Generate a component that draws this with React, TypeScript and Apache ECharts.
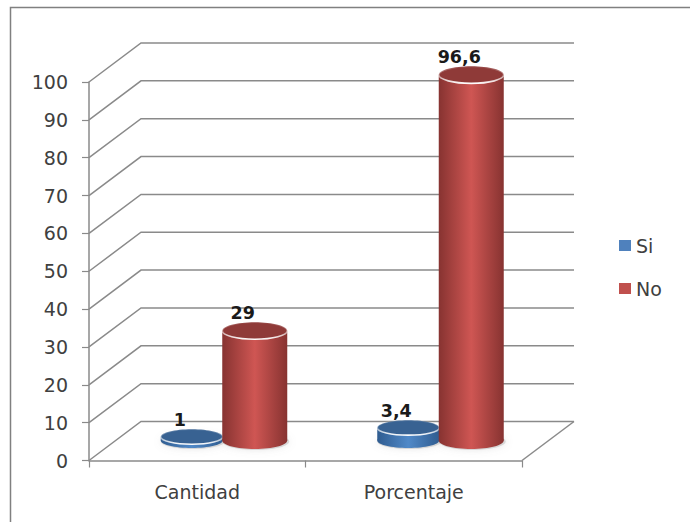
import React, { useEffect, useRef } from "react";
import * as echarts from "echarts";

const categories = ["Cantidad", "Porcentaje"];
const siValues = [1, 3.4];
const noValues = [29, 96.6];
const axisTicks = [0, 10, 20, 30, 40, 50, 60, 70, 80, 90, 100];

const FONT = "'DejaVu Sans', sans-serif";
const LINE = "#8a8a8a";
const TEXT = "#404040";

// Oblique projection of the chart's box: how far the back wall sits from the front plane.
const WALL_DX = 52;
const WALL_DY = -39;
// Bars stand halfway into the box.
const BAR_DX = 26;
const BAR_DY = -20;

const sideGradient = (edge: string, mid: string) =>
  new echarts.graphic.LinearGradient(0, 0, 1, 0, [
    { offset: 0, color: edge },
    { offset: 0.5, color: mid },
    { offset: 1, color: edge },
  ]);

const rimGradient = () =>
  new echarts.graphic.LinearGradient(0, 0, 0, 1, [
    { offset: 0, color: "rgba(255,255,255,0.05)" },
    { offset: 0.55, color: "rgba(255,255,255,0.5)" },
    { offset: 1, color: "rgba(255,255,255,0.98)" },
  ]);

function cylinderSeries(
  name: string,
  values: number[],
  shift: number,
  rx: number,
  ry: number,
  colors: { legend: string; edge: string; mid: string; top: string }
) {
  return {
    name,
    type: "custom",
    coordinateSystem: "cartesian2d",
    clip: false,
    itemStyle: { color: colors.legend },
    data: values.map((v, i) => [i, v]),
    renderItem: (_: any, api: any) => {
      const value = api.value(1);
      const base = api.coord([api.value(0), 0]);
      const top = api.coord([api.value(0), value]);
      const cx = base[0] + BAR_DX + shift;
      const yBase = base[1] + BAR_DY;
      const yTop = top[1] + BAR_DY;
      const fill = sideGradient(colors.edge, colors.mid);
      return {
        type: "group",
        children: [
          {
            // Soft contact shadow under the base
            type: "ellipse",
            shape: { cx: cx + 1, cy: yBase + 1, rx: rx + 1, ry },
            style: {
              fill: "rgba(150,150,150,0.3)",
              shadowBlur: 7,
              shadowColor: "rgba(130,130,130,0.6)",
            },
          },
          {
            type: "ellipse",
            shape: { cx, cy: yBase, rx, ry },
            style: { fill },
          },
          {
            type: "rect",
            shape: { x: cx - rx, y: yTop, width: rx * 2, height: yBase - yTop },
            style: { fill },
          },
          {
            type: "ellipse",
            shape: { cx, cy: yTop, rx, ry },
            style: { fill: colors.top, stroke: rimGradient(), lineWidth: 1.6 },
          },
          {
            type: "text",
            style: {
              x: cx - 12,
              y: yTop - ry - 0.5,
              text: String(value).replace(".", ","),
              font: `bold 17.5px ${FONT}`,
              fill: "#1a1a1a",
              textAlign: "center",
              textVerticalAlign: "bottom",
            },
          },
        ],
      };
    },
  };
}

export default function App() {
  const ref = useRef<HTMLDivElement>(null);

  useEffect(() => {
    const chart = echarts.init(ref.current!, null, { renderer: "svg" });
    chart.setOption({
      animation: false,
      backgroundColor: "#ffffff",
      grid: { left: 89, right: 172, top: 82, bottom: 61.5 },
      xAxis: {
        type: "category",
        data: categories,
        axisLine: { lineStyle: { color: LINE, width: 1.5 } },
        axisTick: { show: true, length: 7, lineStyle: { color: LINE, width: 1.2 } },
        axisLabel: { color: TEXT, fontFamily: FONT, fontSize: 19, margin: 22 },
        splitLine: { show: false },
      },
      yAxis: {
        type: "value",
        min: 0,
        max: 100,
        interval: 10,
        axisLine: { show: true, lineStyle: { color: LINE, width: 1.5 } },
        axisTick: { show: true, length: 7, lineStyle: { color: LINE, width: 1.2 } },
        axisLabel: { color: TEXT, fontFamily: FONT, fontSize: 19, margin: 21 },
        splitLine: { show: false },
      },
      legend: {
        data: ["Si", "No"],
        orient: "vertical",
        left: 614,
        top: 231,
        icon: "rect",
        itemWidth: 12,
        itemHeight: 11,
        itemGap: 24,
        textStyle: { color: TEXT, fontFamily: FONT, fontSize: 19 },
      },
      graphic: [
        {
          type: "polyline",
          silent: true,
          shape: { points: [[10.5, 522], [10.5, 7.5], [690, 7.5]] },
          style: { fill: "none", stroke: "#808080", lineWidth: 1.5 },
        },
      ],
      series: [
        {
          // Wall and floor lines of the oblique box, one per axis tick.
          type: "custom",
          coordinateSystem: "cartesian2d",
          clip: false,
          silent: true,
          data: axisTicks.map((t) => [0, t]),
          renderItem: (params: any, api: any) => {
            const y = api.coord([0, api.value(1)])[1];
            const left = params.coordSys.x;
            const right = left + params.coordSys.width;
            const style = { fill: "none", stroke: LINE, lineWidth: 1.5 };
            const children: any[] = [
              {
                type: "polyline",
                shape: {
                  points: [
                    [left, y],
                    [left + WALL_DX, y + WALL_DY],
                    [right + WALL_DX, y + WALL_DY],
                  ],
                },
                style,
              },
            ];
            if (api.value(1) === 0) {
              children.push({
                type: "line",
                shape: { x1: right, y1: y, x2: right + WALL_DX, y2: y + WALL_DY },
                style,
              });
            }
            return { type: "group", children };
          },
        },
        cylinderSeries("Si", siValues, -31.5, 31, 7.5, {
          legend: "#4f81bd",
          edge: "#2f5c90",
          mid: "#5089c8",
          top: "#386292",
        }),
        cylinderSeries("No", noValues, 31.5, 32.5, 8.5, {
          legend: "#c0504d",
          edge: "#873331",
          mid: "#cf5653",
          top: "#8f3a38",
        }),
      ],
    });
    return () => chart.dispose();
  }, []);

  return (
    <div
      ref={ref}
      style={{ position: "absolute", left: 0, top: 0, width: 694, height: 522 }}
    />
  );
}
